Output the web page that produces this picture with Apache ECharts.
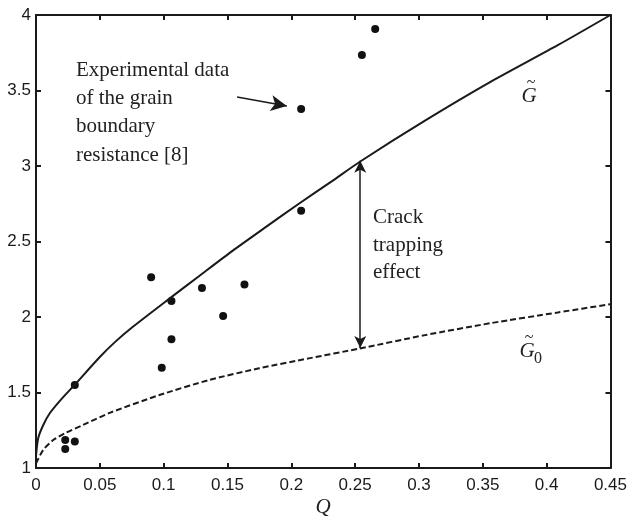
<!DOCTYPE html>
<html><head><meta charset="utf-8">
<script src="https://cdn.jsdelivr.net/npm/echarts@6/dist/echarts.min.js"></script>
<style>html,body{margin:0;padding:0;background:#fff}#c{width:630px;height:522px}</style>
</head><body><div id="c"></div>
<script>
// Experimental data of the grain boundary resistance [8]
const expQ = [0.0229, 0.0229, 0.0304, 0.0304, 0.0902, 0.0985, 0.1061, 0.1061, 0.1300, 0.1466, 0.1633, 0.2077, 0.2077, 0.2553, 0.2657];
const expG = [1.185, 1.126, 1.175, 1.550, 2.263, 1.664, 2.106, 1.852, 2.192, 2.007, 2.216, 2.704, 3.377, 3.735, 3.907];

// Curve G~ (solid)
const gQ = [0, 0.0018, 0.0057, 0.0109, 0.0187, 0.0304, 0.0500, 0.0616, 0.0759, 0.1058, 0.1279, 0.1539, 0.1799, 0.2059, 0.2319, 0.2540, 0.3047, 0.3567, 0.4087, 0.45];
const gV = [1.08, 1.20, 1.285, 1.364, 1.445, 1.552, 1.735, 1.832, 1.935, 2.130, 2.272, 2.438, 2.595, 2.750, 2.900, 3.030, 3.300, 3.560, 3.800, 4.00];

// Curve G~0 (dashed)
const g0Q = [0, 0.0057, 0.0135, 0.0226, 0.0369, 0.0577, 0.0967, 0.1357, 0.1747, 0.2137, 0.2527, 0.3047, 0.3567, 0.4087, 0.45];
const g0V = [1.03, 1.12, 1.185, 1.23, 1.285, 1.365, 1.483, 1.583, 1.660, 1.726, 1.790, 1.880, 1.960, 2.030, 2.085];

// Annotation arrows (data coordinates)
const noteArrow = [[0.1575, 3.457], [0.1965, 3.397]];
const trapArrow = [[0.254, 3.035], [0.254, 1.795]];

const xMin = 0, xMax = 0.45, xStep = 0.05;
const yMin = 1, yMax = 4, yStep = 0.5;

const ink = '#1a1a1a';
const zip = (a, b) => a.map((v, i) => [v, b[i]]);

const axisCommon = {
  axisLine: { show: true, onZero: false, lineStyle: { color: ink, width: 2 } },
  axisTick: { show: true, inside: true, length: 5, lineStyle: { color: ink, width: 2 } },
  splitLine: { show: false }
};
const labelStyle = { color: ink, fontSize: 17, fontFamily: '"Liberation Sans", Arial, sans-serif' };
const serif = '"Liberation Serif", "Times New Roman", serif';

const chart = echarts.init(document.getElementById('c'), null, { renderer: 'canvas' });
chart.setOption({
  animation: false,
  backgroundColor: '#fff',
  grid: { left: 36, right: 17, top: 15, bottom: 54 },
  xAxis: [
    Object.assign({ type: 'value', min: xMin, max: xMax, interval: xStep, position: 'bottom',
      axisLabel: Object.assign({ margin: 9 }, labelStyle) }, axisCommon),
    Object.assign({ type: 'value', min: xMin, max: xMax, interval: xStep, position: 'top',
      axisLabel: { show: false } }, axisCommon)
  ],
  yAxis: [
    Object.assign({ type: 'value', min: yMin, max: yMax, interval: yStep, position: 'left',
      axisLabel: Object.assign({ margin: 5 }, labelStyle) }, axisCommon),
    Object.assign({ type: 'value', min: yMin, max: yMax, interval: yStep, position: 'right',
      axisLabel: { show: false } }, axisCommon)
  ],
  series: [
    {
      type: 'line', data: zip(gQ, gV), showSymbol: false, smooth: 0.25,
      lineStyle: { color: ink, width: 2 }, silent: true,
      markLine: {
        silent: true, symbol: ['arrow', 'arrow'], symbolSize: [9, 12],
        label: { show: false },
        lineStyle: { color: ink, width: 1.5, type: 'solid' },
        data: [[{ coord: trapArrow[0] }, { coord: trapArrow[1] }]]
      }
    },
    {
      type: 'line', data: zip(g0Q, g0V), showSymbol: false, smooth: 0.25,
      lineStyle: { color: ink, width: 2, type: [6, 3] }, silent: true,
      markLine: {
        silent: true, symbol: ['none', 'arrow'], symbolSize: [12, 16],
        label: { show: false },
        lineStyle: { color: ink, width: 1.5, type: 'solid' },
        data: [[{ coord: noteArrow[0] }, { coord: noteArrow[1] }]]
      }
    },
    {
      type: 'scatter', data: zip(expQ, expG), symbol: 'circle', symbolSize: 8,
      itemStyle: { color: '#111', opacity: 1 }, silent: true
    }
  ],
  graphic: [
    { type: 'text', left: 76, top: 56, style: { text: 'Experimental data\nof the grain\nboundary\nresistance [8]', fill: '#222', font: '21px ' + serif, lineHeight: 28.3 } },
    { type: 'text', left: 373, top: 204, style: { text: 'Crack\ntrapping\neffect', fill: '#222', font: '21px ' + serif, lineHeight: 27.5 } },
    { type: 'text', x: 529, y: 96, style: { text: 'G', fill: '#222', font: 'italic 21px ' + serif, textAlign: 'center', textVerticalAlign: 'middle' } },
    { type: 'text', x: 531, y: 83, style: { text: '~', fill: '#222', font: '16px ' + serif, textAlign: 'center', textVerticalAlign: 'middle' } },
    { type: 'text', x: 527, y: 351, style: { text: 'G', fill: '#222', font: 'italic 21px ' + serif, textAlign: 'center', textVerticalAlign: 'middle' } },
    { type: 'text', x: 529, y: 338, style: { text: '~', fill: '#222', font: '16px ' + serif, textAlign: 'center', textVerticalAlign: 'middle' } },
    { type: 'text', x: 538, y: 359, style: { text: '0', fill: '#222', font: '16px ' + serif, textAlign: 'center', textVerticalAlign: 'middle' } },
    { type: 'text', x: 323, y: 507, style: { text: 'Q', fill: '#222', font: 'italic 21px ' + serif, textAlign: 'center', textVerticalAlign: 'middle' } }
  ]
});
</script>
</body></html>
